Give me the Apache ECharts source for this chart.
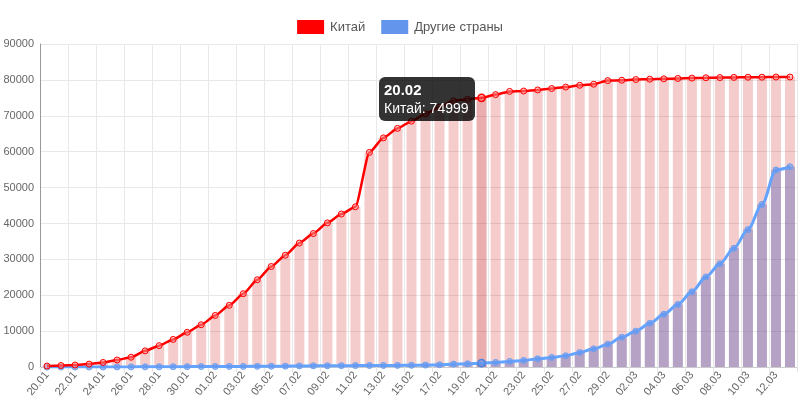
<!DOCTYPE html>
<html>
<head>
<meta charset="utf-8">
<script src="https://cdn.jsdelivr.net/npm/echarts@6/dist/echarts.min.js"></script>
<style>
html,body{margin:0;padding:0;background:#fff;}
#chart{width:800px;height:400px;}
</style>
</head>
<body>
<div id="chart"></div>
<script>
var dates = ['20.01','21.01','22.01','23.01','24.01','25.01','26.01','27.01','28.01','29.01','30.01','31.01',
'01.02','02.02','03.02','04.02','05.02','06.02','07.02','08.02','09.02','10.02','11.02','12.02','13.02','14.02',
'15.02','16.02','17.02','18.02','19.02','20.02','21.02','22.02','23.02','24.02','25.02','26.02','27.02','28.02','29.02',
'01.03','02.03','03.03','04.03','05.03','06.03','07.03','08.03','09.03','10.03','11.03','12.03','13.03'];

var china = [291,440,571,830,1287,1975,2744,4515,5974,7711,9692,11791,
14380,17205,20438,24324,28018,31161,34546,37198,40171,42638,44653,59804,63851,66492,
68500,70548,72436,74185,74576,74999,75900,76800,76900,77200,77600,78000,78500,78800,79800,
79900,80100,80200,80300,80400,80500,80600,80650,80700,80750,80750,80800,80800];

var others = [5,7,10,15,25,40,55,65,85,105,120,150,
170,180,190,210,230,265,315,345,360,400,410,440,450,470,
500,550,650,830,920,1100,1300,1570,1850,2300,2680,3140,4060,5080,6370,
8300,10000,12190,14700,17450,20960,25100,28800,33100,38300,45300,54900,55800];

var yTicks = {min: 0, max: 90000, interval: 10000};
var seriesNames = ['Китай', 'Другие страны'];
var tipIndex = dates.indexOf('20.02');

var chart = echarts.init(document.getElementById('chart'), null, {renderer: 'canvas'});
var font = '"Liberation Sans", Arial, sans-serif';

var option = {
  animation: false,
  textStyle: {fontFamily: font},
  legend: {
    top: 15,
    left: 'center',
    icon: 'rect',
    itemWidth: 27,
    itemHeight: 14,
    itemGap: 16,
    textStyle: {color: '#555', fontSize: 13, fontFamily: font, padding: [0, 0, 0, 1]},
    data: [
      {name: seriesNames[0], itemStyle: {color: '#ff0000'}},
      {name: seriesNames[1], itemStyle: {color: '#6495ed'}}
    ]
  },
  tooltip: {
    trigger: 'item',
    triggerOn: 'none',
    alwaysShowContent: true,
    position: [379, 77],
    backgroundColor: 'rgba(0,0,0,0.8)',
    borderWidth: 0,
    padding: [4, 6, 4, 5],
    extraCssText: 'border-radius:6px;box-shadow:none;',
    textStyle: {color: '#fff', fontSize: 14, fontFamily: font},
    formatter: function (p) {
      return '<div style="font-weight:bold;font-size:15px;line-height:18px">' + p.name + '</div>' +
             '<div style="line-height:18px">' + p.seriesName + ': ' + p.value + '</div>';
    }
  },
  grid: {left: 40, right: 3, top: 44, bottom: 31},
  xAxis: {
    type: 'category',
    data: dates,
    boundaryGap: true,
    axisLine: {lineStyle: {color: '#ccc'}},
    axisTick: {show: true, length: 5, interval: 1, lineStyle: {color: '#e5e5e5'}},
    axisLabel: {interval: 1, rotate: 50, color: '#666', fontSize: 11, fontFamily: font, margin: 6},
    splitLine: {show: true, interval: 1, lineStyle: {color: '#e8e8e8'}}
  },
  yAxis: {
    type: 'value',
    min: yTicks.min, max: yTicks.max, interval: yTicks.interval,
    axisLine: {show: true, lineStyle: {color: '#999'}},
    axisTick: {show: false},
    axisLabel: {color: '#666', fontSize: 11, fontFamily: font, margin: 6,
      formatter: function (v) { return String(v); }},
    splitLine: {lineStyle: {color: '#e8e8e8'}}
  },
  series: [
    {
      name: seriesNames[1], type: 'bar', data: others, barWidth: 10, barGap: '-100%',
      itemStyle: {color: 'rgba(100,149,237,0.5)'},
      emphasis: {disabled: true}, z: 1
    },
    {
      name: seriesNames[0], type: 'bar', data: china, barWidth: 10, barGap: '-100%',
      itemStyle: {color: 'rgba(200,0,0,0.2)'},
      emphasis: {itemStyle: {color: 'rgba(200,30,30,0.36)'}}, z: 2
    },
    {
      name: seriesNames[0], type: 'line', data: china,
      smooth: 0.2, smoothMonotone: 'x',
      symbol: 'circle', symbolSize: 6, showSymbol: true,
      lineStyle: {color: '#ff0000', width: 2.5},
      itemStyle: {color: 'rgba(255,150,150,0.5)', borderColor: '#ff0000', borderWidth: 1},
      emphasis: {scale: 1.2, itemStyle: {color: 'rgba(255,100,100,0.5)', borderColor: '#ff0000', borderWidth: 1.5}},
      z: 4
    },
    {
      name: seriesNames[1], type: 'line', data: others,
      smooth: 0.3, smoothMonotone: 'x',
      symbol: 'circle', symbolSize: 6, showSymbol: true,
      lineStyle: {color: '#5b95ee', width: 3},
      itemStyle: {color: 'rgba(100,149,237,0.6)', borderColor: '#6d9fef', borderWidth: 1},
      emphasis: {scale: 1.2, itemStyle: {color: 'rgba(100,149,237,0.6)', borderColor: '#4a82e0', borderWidth: 1.5}},
      z: 3
    }
  ]
};
chart.setOption(option);
chart.dispatchAction({type: 'highlight', seriesIndex: [1, 2, 3], dataIndex: tipIndex});
chart.dispatchAction({type: 'showTip', seriesIndex: 2, dataIndex: tipIndex});
</script>
</body>
</html>
